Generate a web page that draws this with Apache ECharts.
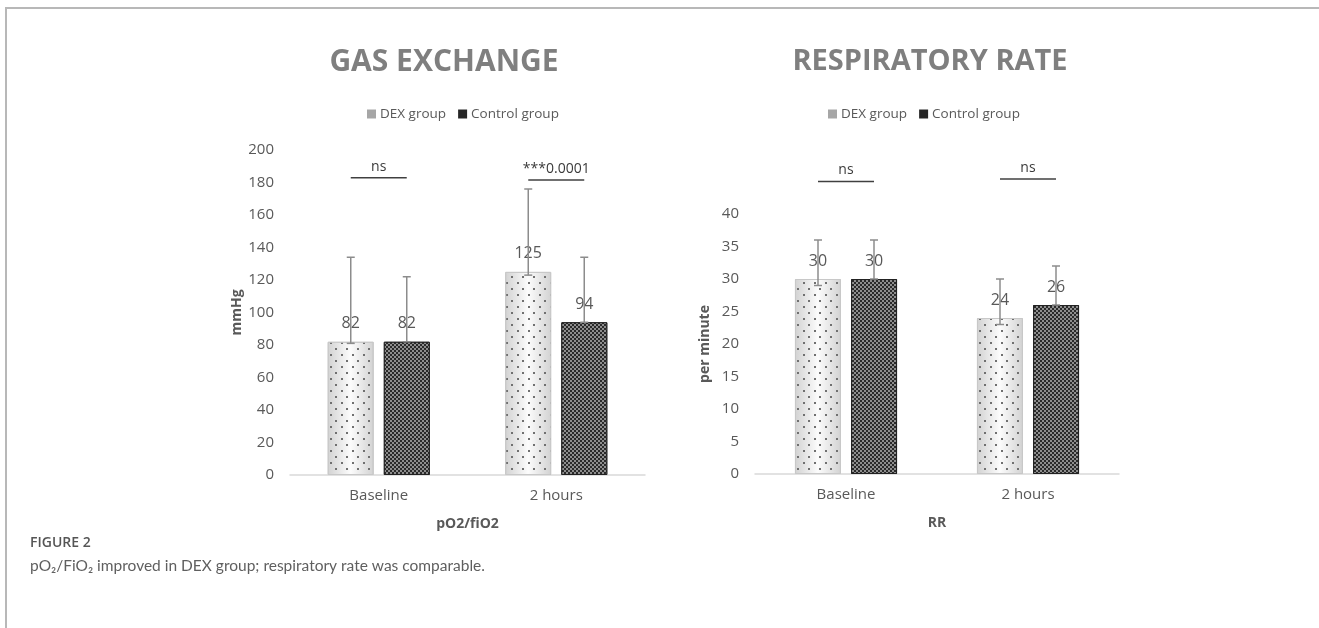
<!DOCTYPE html>
<html><head><meta charset="utf-8">
<script src="https://cdn.jsdelivr.net/npm/echarts@6/dist/echarts.min.js"></script>
<style>html,body{margin:0;padding:0;background:#fff}#c{width:1319px;height:628px}</style>
</head><body><div id="c"></div>
<script>
// ---- data ----
const categories = ['Baseline', '2 hours'];
const seriesNames = ['DEX group', 'Control group'];
// Gas exchange (pO2/fiO2, mmHg)
const gasDex = [82, 125];
const gasControl = [82, 94];
const gasDexErrLow = [81, 123];
const gasDexErrHigh = [134, 176];
const gasControlErrLow = [82, 94];
const gasControlErrHigh = [122, 134];
const gasSigText = ['ns', '***0.0001'];
const gasSigLevel = [183, 181.5];
// Respiratory rate (per minute)
const rrDex = [30, 24];
const rrControl = [30, 26];
const rrDexErrLow = [29, 23];
const rrDexErrHigh = [36, 30];
const rrControlErrLow = [30, 26];
const rrControlErrHigh = [36, 32];
const rrSigText = ['ns', 'ns'];
const rrSigLevel = [45, 45.4];
// axes
const gasAxis = {min: 0, max: 200, interval: 20};
const rrAxis = {min: 0, max: 40, interval: 5};

// ---- styling ----
const FONT = '"Open Sans", "Noto Sans", sans-serif';
const TXT = '#595959';
const BAR_W = 46;
const BAR_GAP = '22%';
const OFF = 28; // half of (bar width + gap)

const dexStyle = {
  color: {type: 'linear', x: 0, y: 0, x2: 1, y2: 0, colorStops: [
    {offset: 0, color: '#d2d2d2'}, {offset: 0.5, color: '#fcfcfc'}, {offset: 1, color: '#d2d2d2'}]},
  borderColor: '#c8c8c8', borderWidth: 1,
  decal: {symbol: 'rect', symbolSize: 1, color: '#707070',
    dashArrayX: [[1.5, 8.5], [0, 5, 1.5, 3.5]], dashArrayY: [1.5, 4]}
};
const ctlStyle = {
  color: '#2a2a2a', borderColor: '#222222', borderWidth: 1,
  decal: {symbol: 'rect', symbolSize: 1, color: '#8e8e8e',
    dashArrayX: [[2, 2], [0, 2, 2, 0]], dashArrayY: [2, 0]}
};
const labelStyle = {show: true, position: 'top', distance: 10, color: TXT, fontSize: 16, fontFamily: FONT};

function errRender(offset) {
  return function (params, api) {
    const c = api.value(0);
    const hi = api.coord([c, api.value(2)]);
    const lo = api.coord([c, api.value(1)]);
    const x = hi[0] + offset;
    const cap = 4;
    const st = {stroke: '#8c8c8c', lineWidth: 1.5, fill: null};
    return {type: 'group', children: [
      {type: 'line', shape: {x1: x, y1: hi[1], x2: x, y2: lo[1]}, style: st},
      {type: 'line', shape: {x1: x - cap, y1: hi[1], x2: x + cap, y2: hi[1]}, style: st},
      {type: 'line', shape: {x1: x - cap, y1: lo[1], x2: x + cap, y2: lo[1]}, style: st}
    ]};
  };
}
function sigRender(texts) {
  return function (params, api) {
    const p = api.coord([api.value(0), api.value(1)]);
    return {type: 'group', children: [
      {type: 'line', shape: {x1: p[0] - OFF, y1: p[1], x2: p[0] + OFF, y2: p[1]},
        style: {stroke: '#404040', lineWidth: 1.5}},
      {type: 'text', x: p[0], y: p[1] - 4, style: {text: texts[params.dataIndex], textAlign: 'center',
        textVerticalAlign: 'bottom', fill: '#3a3a3a', font: '14px ' + FONT}}
    ]};
  };
}
const triple = (lo, hi) => categories.map((c, i) => [i, lo[i], hi[i]]);
const pair = (lv) => categories.map((c, i) => [i, lv[i]]);

function xAx(gi, name) {
  return {type: 'category', gridIndex: gi, data: categories,
    axisLine: {lineStyle: {color: '#d9d9d9', width: 1.5}}, axisTick: {show: false},
    axisLabel: {color: TXT, fontSize: 15, fontFamily: FONT, margin: 13},
    name: name, nameLocation: 'middle', nameGap: 42,
    nameTextStyle: {color: TXT, fontSize: 14, fontWeight: 'bold', fontFamily: FONT}};
}
function yAx(gi, ax, name, gap) {
  return {type: 'value', gridIndex: gi, min: ax.min, max: ax.max, interval: ax.interval,
    axisLine: {show: false}, axisTick: {show: false}, splitLine: {show: false},
    axisLabel: {color: TXT, fontSize: 15, fontFamily: FONT, margin: 16},
    name: name, nameLocation: 'middle', nameGap: gap, nameRotate: 90,
    nameTextStyle: {color: TXT, fontSize: 14, fontWeight: 'bold', fontFamily: FONT}};
}
const legendData = [
  {name: seriesNames[0], itemStyle: {color: '#a6a6a6', borderWidth: 0, decal: 'none'}},
  {name: seriesNames[1], itemStyle: {color: '#262626', borderWidth: 0, decal: 'none'}}
];
function legend(left) {
  return {left: left, top: 102, icon: 'rect', itemWidth: 9, itemHeight: 9, itemGap: 12,
    selectedMode: false, data: legendData,
    textStyle: {color: TXT, fontSize: 13.5, fontFamily: FONT, padding: [0, 0, 0, -1]}};
}

const option = {
  backgroundColor: '#fff',
  animation: false,
  grid: [
    {left: 290, right: 674, top: 150, bottom: 153},
    {left: 755, right: 200, top: 214, bottom: 154}
  ],
  legend: [legend(362), legend(823)],
  xAxis: [xAx(0, 'pO2/fiO2'), xAx(1, 'RR')],
  yAxis: [yAx(0, gasAxis, 'mmHg', 45), yAx(1, rrAxis, 'per minute', 43)],
  series: [
    {name: seriesNames[0], type: 'bar', xAxisIndex: 0, yAxisIndex: 0, data: gasDex, barWidth: BAR_W, barGap: BAR_GAP, itemStyle: dexStyle, label: labelStyle},
    {name: seriesNames[1], type: 'bar', xAxisIndex: 0, yAxisIndex: 0, data: gasControl, barWidth: BAR_W, barGap: BAR_GAP, itemStyle: ctlStyle, label: labelStyle},
    {name: seriesNames[0], type: 'bar', xAxisIndex: 1, yAxisIndex: 1, data: rrDex, barWidth: BAR_W, barGap: BAR_GAP, itemStyle: dexStyle, label: labelStyle},
    {name: seriesNames[1], type: 'bar', xAxisIndex: 1, yAxisIndex: 1, data: rrControl, barWidth: BAR_W, barGap: BAR_GAP, itemStyle: ctlStyle, label: labelStyle},
    {name: 'errA', type: 'custom', xAxisIndex: 0, yAxisIndex: 0, clip: false, z: 5, renderItem: errRender(-OFF), data: triple(gasDexErrLow, gasDexErrHigh)},
    {name: 'errB', type: 'custom', xAxisIndex: 0, yAxisIndex: 0, clip: false, z: 5, renderItem: errRender(OFF), data: triple(gasControlErrLow, gasControlErrHigh)},
    {name: 'errC', type: 'custom', xAxisIndex: 1, yAxisIndex: 1, clip: false, z: 5, renderItem: errRender(-OFF), data: triple(rrDexErrLow, rrDexErrHigh)},
    {name: 'errD', type: 'custom', xAxisIndex: 1, yAxisIndex: 1, clip: false, z: 5, renderItem: errRender(OFF), data: triple(rrControlErrLow, rrControlErrHigh)},
    {name: 'sigA', type: 'custom', xAxisIndex: 0, yAxisIndex: 0, clip: false, z: 5, renderItem: sigRender(gasSigText), data: pair(gasSigLevel)},
    {name: 'sigB', type: 'custom', xAxisIndex: 1, yAxisIndex: 1, clip: false, z: 5, renderItem: sigRender(rrSigText), data: pair(rrSigLevel)}
  ],
  graphic: [
    {type: 'line', shape: {x1: 5, y1: 8, x2: 1319, y2: 8}, style: {stroke: '#b8b8b8', lineWidth: 2}},
    {type: 'line', shape: {x1: 6, y1: 8, x2: 6, y2: 628}, style: {stroke: '#b8b8b8', lineWidth: 2}},
    {type: 'text', x: 444, y: 62, style: {text: 'GAS EXCHANGE', textAlign: 'center', textVerticalAlign: 'middle',
      fill: '#7f7f7f', font: 'bold 30px ' + FONT}},
    {type: 'text', x: 930, y: 62, style: {text: 'RESPIRATORY RATE', textAlign: 'center', textVerticalAlign: 'middle',
      fill: '#7f7f7f', font: 'bold 29px ' + FONT}},
    {type: 'text', x: 30, y: 543, style: {text: 'FIGURE 2', textVerticalAlign: 'middle',
      fill: '#555555', font: '600 14px ' + FONT}},
    {type: 'text', x: 30, y: 566, style: {text: 'pO₂/FiO₂ improved in DEX group; respiratory rate was comparable.',
      textVerticalAlign: 'middle', fill: '#5f5f5f', font: '15.5px Lato, ' + FONT}}
  ]
};
const chart = echarts.init(document.getElementById('c'));
chart.setOption(option);
</script>
</body></html>
